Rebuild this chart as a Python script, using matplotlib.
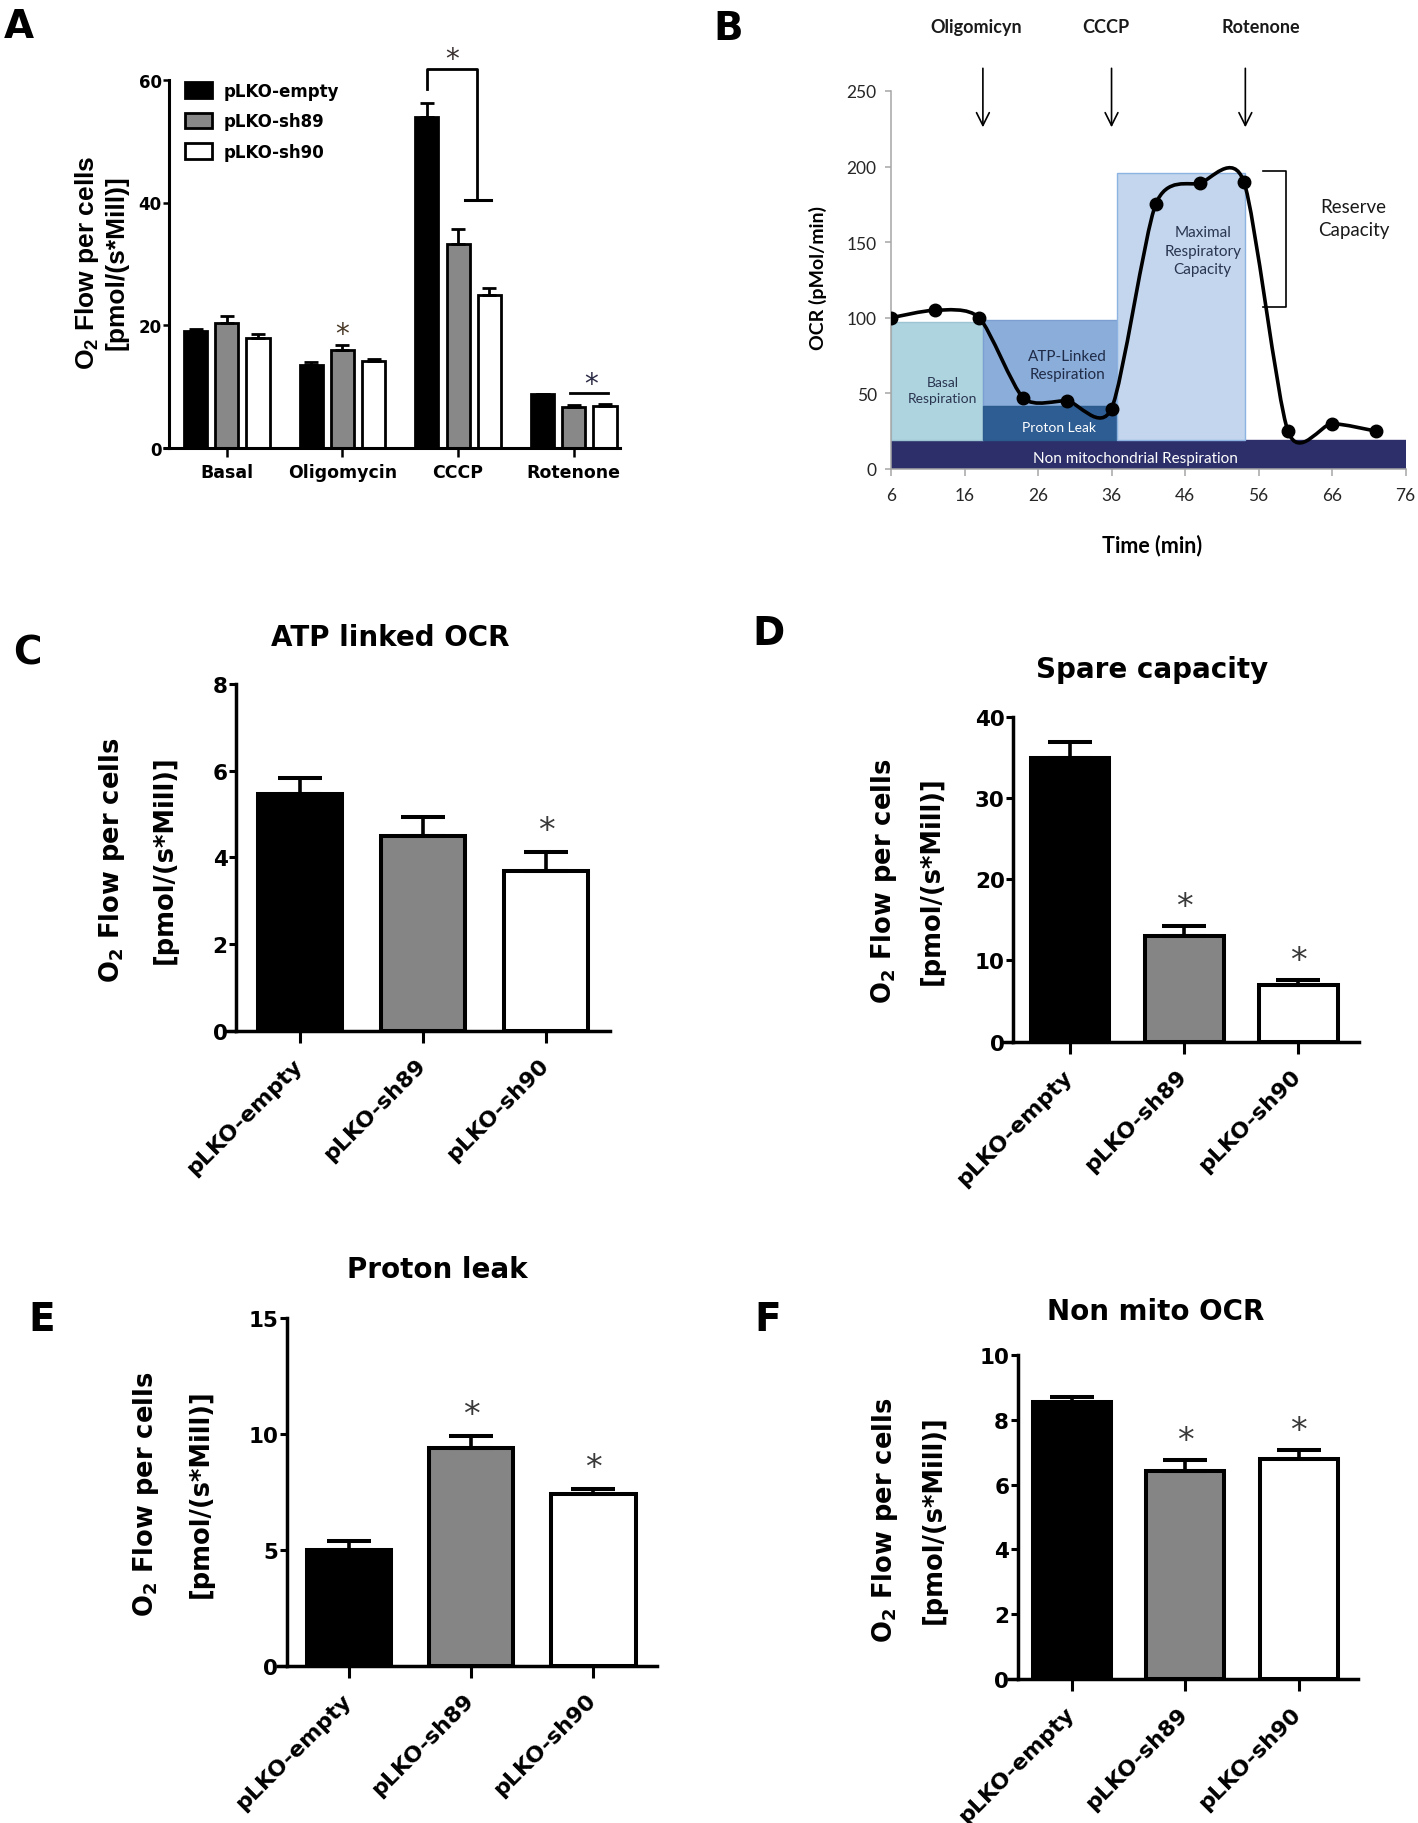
import numpy as np
import matplotlib
matplotlib.use("Agg")
import matplotlib.pyplot as plt
from matplotlib.patches import Rectangle, Patch, PathPatch
from matplotlib.path import Path
from matplotlib.transforms import ScaledTranslation

plt.rcParams["font.family"] = ["DejaVu Sans"]
plt.rcParams["font.weight"] = "bold"
plt.rcParams["mathtext.default"] = "regular"

# ---- data ----
groups = ["pLKO-empty", "pLKO-sh89", "pLKO-sh90"]
treatments = ["Basal", "Oligomycin", "CCCP", "Rotenone"]

a_empty = [19.0, 13.5, 54.0, 8.7]
a_empty_err = [0.4, 0.4, 2.2, 0.1]
a_sh89 = [20.3, 16.0, 33.3, 6.6]
a_sh89_err = [1.2, 0.7, 2.3, 0.3]
a_sh90 = [17.8, 14.2, 24.9, 6.8]
a_sh90_err = [0.7, 0.3, 1.2, 0.3]

time_min = [6, 12, 18, 24, 30, 36, 42, 48, 54, 60, 66, 72]
ocr = [100, 105, 100, 47, 45, 40, 175, 189, 190, 25, 30, 25]
injections = ["Oligomicyn", "CCCP", "Rotenone"]
injection_time = [18.5, 36.0, 54.2]
injection_label_x = [17.6, 35.2, 56.3]

# schematic regions of panel B: (label, x0, x1, y0, y1)
region_names = ["Non mitochondrial Respiration", "Basal\nRespiration",
                "ATP-Linked\nRespiration", "Proton Leak",
                "Maximal\nRespiratory\nCapacity"]
region_x0 = [6, 6, 18.57, 18.57, 36.7]
region_x1 = [76, 18.57, 36.7, 36.7, 54.2]
region_y0 = [0, 19.2, 41.4, 19.2, 19.2]
region_y1 = [19.2, 97.5, 98.7, 41.4, 195.8]

atp_vals = [5.47, 4.50, 3.69]
atp_err = [0.36, 0.43, 0.43]
spare_vals = [34.9, 12.96, 6.95]
spare_err = [2.0, 1.34, 0.6]
leak_vals = [5.01, 9.40, 7.40]
leak_err = [0.36, 0.53, 0.24]
nonmito_vals = [8.54, 6.43, 6.78]
nonmito_err = [0.16, 0.33, 0.30]

W, H = 1418, 1824
fig = plt.figure(figsize=(W / 100, H / 100), dpi=100)


def add_ax(l, t, r, b):
    return fig.add_axes([l / W, 1 - b / H, (r - l) / W, (b - t) / H])


def ftext(x, y, s, **kw):
    return fig.text(x / W, 1 - y / H, s, **kw)


def left_stub(ax, px, lw):
    # GraphPad-style x axis that starts a little left of the y axis
    w = ax.get_position().width * W
    ax.plot([-px / w, 0], [0, 0], transform=ax.transAxes, color="black",
            lw=lw, clip_on=False, solid_capstyle="butt")


def star(ax, x, y, fs, color):
    ax.annotate("*", (x, y), xytext=(0, -0.58 * fs), textcoords="offset points",
                ha="center", va="baseline", fontsize=fs, fontweight="normal",
                color=color, annotation_clip=False)


# ================= Panel A =================
axA = add_ax(169, 81, 620, 448.5)
xa = np.arange(len(treatments))
offs = [-0.27, 0.0, 0.27]
colsA = ["black", "#888888", "white"]
seriesA = [(a_empty, a_empty_err), (a_sh89, a_sh89_err), (a_sh90, a_sh90_err)]
for off, (vals, errs), c in zip(offs, seriesA, colsA):
    axA.bar(xa + off, vals, 0.2, color=c, edgecolor="black", linewidth=2,
            yerr=[np.zeros(len(vals)), errs], capsize=4.7,
            error_kw=dict(elinewidth=2, capthick=2, ecolor="black"))
axA.set_xlim(-0.5, 3.4)
axA.set_ylim(0, 60)
for s in ["top", "right"]:
    axA.spines[s].set_visible(False)
for s in ["left", "bottom"]:
    axA.spines[s].set_linewidth(2.2)
left_stub(axA, 6, 2.2)
axA.set_yticks([0, 20, 40, 60])
axA.set_xticks(xa)
axA.set_xticklabels(treatments, fontsize=12.5)
axA.tick_params(axis="y", length=4.3, width=1.8, pad=1, labelsize=12)
axA.tick_params(axis="x", length=6.5, width=1.8, pad=5)

handles = [Patch(facecolor=c, edgecolor="black", linewidth=2) for c in colsA]
axA.legend(handles, groups, loc="upper left", bbox_to_anchor=(0.0355, 0.995),
           frameon=False, prop={"weight": "bold", "size": 12}, handlelength=1.6,
           handleheight=1.04, handletextpad=0.72, labelspacing=0.75,
           borderpad=0, borderaxespad=0)

# significance marks
cx = 2 + offs[0]
top_ccc = a_empty[2] + a_empty_err[2]
axA.plot([cx, cx, 2.16, 2.16], [top_ccc + 2.4, 61.8, 61.8, 40.4],
         color="black", lw=2, clip_on=False)
axA.plot([2.056, 2.286], [40.4, 40.4], color="black", lw=2.2, clip_on=False)
axA.plot([3 + offs[0] + 0.24, 3 + offs[2] + 0.03], [8.85, 8.85], color="black", lw=2)
star(axA, 1.95, 64.8, 20, "#3a3030")
star(axA, 1.0, a_sh89[1] + a_sh89_err[1] + 3.2, 20, "#4a3a28")
star(axA, 3.15, 11.7, 20, "#2b2b45")

ftext(87, 263, "O$_2$ Flow per cells", rotation=90, ha="center", va="center",
      fontsize=19, family="Liberation Sans")
ftext(116, 263, "[pmol/(s*Mill)]", rotation=90, ha="center", va="center",
      fontsize=19, family="Liberation Sans")

# ================= Panel B =================
axB = add_ax(891, 92, 1405.6, 470)
axB.set_xlim(6, 76)
axB.set_ylim(0, 250)
face = ["#2c2f6a", "#aed4e0", "#8badda", "#2e5d93", "#c3d6ed"]
edge = ["#2c2f6a", "#9cc4d3", "#7a9fd0", "#2b5a8c", "#8db3e2"]
for x0, x1, y0, y1, fc, ec in zip(region_x0, region_x1, region_y0, region_y1, face, edge):
    axB.add_patch(Rectangle((x0, y0), x1 - x0, y1 - y0, facecolor=fc,
                            edgecolor=ec, lw=1, zorder=1))

text_pos = [(39.3, 7.0), (13.0, 52.2), (30.0, 68.6), (28.8, 27.8), (48.4, 144.4)]
text_col = ["white", "#2a3550", "#1f2b47", "white", "#2a3550"]
text_fs = [11, 10, 11, 10, 11]
for name, (tx, ty), tc, fs in zip(region_names, text_pos, text_col, text_fs):
    axB.text(tx, ty, name, ha="center", va="center", color=tc, fontsize=fs,
             family="Lato", fontweight="normal", linespacing=1.4, zorder=3)

# smoothed line through the measured points (cubic Bezier segments)
pts = np.column_stack([time_min, ocr]).astype(float)
tension = 1 / 8
verts = [pts[0]]
codes = [Path.MOVETO]
n = len(pts)
for i in range(n - 1):
    p0 = pts[max(i - 1, 0)]
    p1 = pts[i]
    p2 = pts[i + 1]
    p3 = pts[min(i + 2, n - 1)]
    c1 = p1 + (p2 - p0) * tension
    c2 = p2 - (p3 - p1) * tension
    verts += [c1, c2, p2]
    codes += [Path.CURVE4] * 3
axB.add_patch(PathPatch(Path(verts, codes), facecolor="none", edgecolor="black",
                        lw=2.6, zorder=4))
axB.plot(time_min, ocr, "o", color="black", ms=9, zorder=5)

for s in ["top", "right"]:
    axB.spines[s].set_visible(False)
for s in ["left", "bottom"]:
    axB.spines[s].set_color("#a6a6a6")
    axB.spines[s].set_linewidth(1.1)
axB.set_xticks(range(6, 77, 10))
axB.set_yticks(range(0, 251, 50))
axB.tick_params(axis="x", length=4.8, width=1.1, color="#a6a6a6", pad=8,
                labelsize=12.5, labelcolor="#262626")
axB.tick_params(axis="y", length=4.3, width=1.1, color="#a6a6a6", pad=6,
                labelsize=12.5, labelcolor="#262626")
for lab in axB.get_xticklabels() + axB.get_yticklabels():
    lab.set_fontfamily("Lato")
    lab.set_fontweight("normal")

for t, lx, name in zip(injection_time, injection_label_x, injections):
    axB.annotate("", xy=(t, 226), xytext=(t, 265), annotation_clip=False,
                 arrowprops=dict(arrowstyle="->", lw=1.2, color="black",
                                 mutation_scale=23, shrinkA=0, shrinkB=0))
    axB.text(lx, 289, name, ha="center", va="baseline", fontsize=13,
             family="Lato", fontweight="bold", color="#1a1a1a", clip_on=False)

axB.plot([56.65, 59.7, 59.7, 56.65], [196.9, 196.9, 106.9, 106.9],
         color="black", lw=1.2, clip_on=False, zorder=3)
axB.text(68.9, 166.2, "Reserve\nCapacity", ha="center", va="center",
         fontsize=13.5, family="Lato", fontweight="normal", color="#1a1a1a",
         linespacing=1.4)
ftext(818, 277.5, "OCR (pMol/min)", rotation=90, ha="center", va="center",
      fontsize=14, family="Lato", fontweight="bold")
ftext(1152, 546, "Time (min)", ha="center", va="center", fontsize=15.5,
      family="Lato", fontweight="bold")


# ================= Panels C-F =================
def bar_panel(rect, vals, errs, ylim, yticks, xlim, title, title_xy, ylab_xs, ylab_y, stars):
    ax = add_ax(*rect)
    xs = np.arange(len(groups))
    ax.bar(xs, vals, 0.69, color=["black", "#858585", "white"], edgecolor="black",
           linewidth=2.9, yerr=[np.zeros(len(vals)), errs], capsize=15.5,
           error_kw=dict(elinewidth=2.6, capthick=2.9, ecolor="black"))
    ax.set_xlim(*xlim)
    ax.set_ylim(*ylim)
    for s in ["top", "right"]:
        ax.spines[s].set_visible(False)
    for s in ["left", "bottom"]:
        ax.spines[s].set_linewidth(2.5)
    left_stub(ax, 11, 2.5)
    ax.set_yticks(yticks)
    ax.set_xticks(xs)
    ax.set_xticklabels(groups, rotation=45, ha="right", rotation_mode="anchor",
                       fontsize=16)
    ax.tick_params(axis="y", length=5, width=2.2, pad=1, labelsize=15.5)
    ax.tick_params(axis="x", length=8.4, width=2.2, pad=9)
    shift = ScaledTranslation(-0.08, 0, fig.dpi_scale_trans)
    for lab in ax.get_xticklabels():
        lab.set_transform(lab.get_transform() + shift)
    for i in stars:
        star(ax, i, vals[i] + errs[i] + 0.09 * ylim[1], 24, "#3a3a3a")
    ftext(title_xy[0], title_xy[1], title, ha="center", va="baseline", fontsize=20)
    ftext(ylab_xs[0], ylab_y, "O$_2$ Flow per cells", rotation=90, ha="center",
          va="center", fontsize=18.5)
    ftext(ylab_xs[1], ylab_y, "[pmol/(s*Mill)]", rotation=90, ha="center",
          va="center", fontsize=18.5)
    return ax


bar_panel((236, 685, 610, 1031.7), atp_vals, atp_err, (0, 8), [0, 2, 4, 6, 8],
          (-0.52, 2.52), "ATP linked OCR", (390, 646), (112, 165), 860, [2])
bar_panel((1013, 717.7, 1359, 1042.7), spare_vals, spare_err, (0, 40),
          [0, 10, 20, 30, 40], (-0.5, 2.53), "Spare capacity", (1152, 678),
          (884, 932), 881, [1, 2])
bar_panel((286.7, 1319.3, 657, 1666.7), leak_vals, leak_err, (0, 15), [0, 5, 10, 15],
          (-0.51, 2.52), "Proton leak", (437.7, 1278), (146, 201), 1494, [1, 2])
bar_panel((1017.5, 1356, 1357.7, 1680), nonmito_vals, nonmito_err, (0, 10),
          [0, 2, 4, 6, 8, 10], (-0.48, 2.52), "Non mito OCR", (1155.6, 1320),
          (885, 934), 1520, [1, 2])

# panel letters
for letter, lx, ly in [("A", 19, 38), ("B", 728, 40), ("C", 27, 665),
                       ("D", 768, 645), ("E", 42, 1331), ("F", 768, 1331)]:
    ftext(lx, ly, letter, ha="center", va="baseline", fontsize=28)

fig.savefig("out.png", dpi=100)
